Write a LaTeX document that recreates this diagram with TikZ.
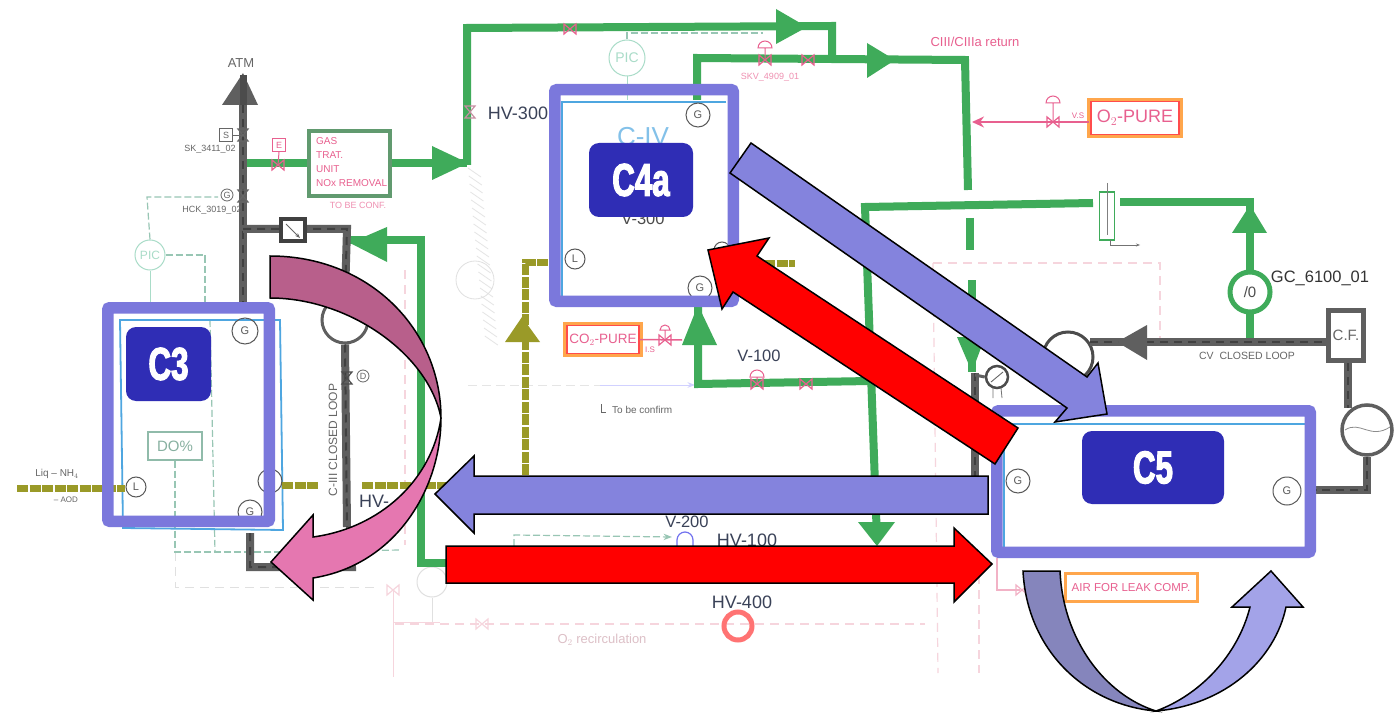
\documentclass[tikz,border=0pt]{standalone}
\usepackage{fontspec}
\setmainfont{Liberation Sans}
\newfontfamily\labfont[FakeStretch=0.68,BoldFeatures={FakeStretch=0.68,FakeBold=2.5}]{Liberation Sans}
\usetikzlibrary{arrows.meta,calc}
\newcommand\fsz[1]{\fontsize{#1}{#1}\selectfont}
\definecolor{frameC}{HTML}{7B78DC}
\definecolor{labC}{HTML}{2F2DB5}
\definecolor{blueA}{HTML}{8483DD}
\definecolor{greenP}{HTML}{3FAB5A}
\definecolor{greyP}{HTML}{5F5F5F}
\definecolor{oliveP}{HTML}{9A9A28}
\definecolor{pinkP}{HTML}{E8608F}
\definecolor{faintP}{HTML}{F6D5DD}
\definecolor{tealF}{HTML}{A9DCC8}
\definecolor{vessel}{HTML}{4EA6E0}
\definecolor{hvtext}{HTML}{3A4258}
\definecolor{magDark}{HTML}{B85F8B}
\definecolor{magLight}{HTML}{E577B0}
\definecolor{purDark}{HTML}{8585BC}
\definecolor{purLight}{HTML}{A3A3E8}
\tikzset{
  x=1pt,y=-1pt,
  framebox/.style={draw=frameC,line width=11.5pt,rounded corners=2pt,inner sep=0pt,outer sep=0pt,anchor=north west},
  labbox/.style={fill=labC,rounded corners=10pt,text=white,inner sep=0pt,outer sep=0pt,align=center,font={\labfont\bfseries\fsz{46}}},
  gpipe/.style={draw=greenP,line width=8pt,line join=miter},
  kpipe/.style={draw=greyP,line width=8pt,line join=miter,postaction={draw=black!75,line width=2pt,dash pattern=on 8pt off 6pt}},
  opipe/.style={draw=oliveP,line width=7pt,dash pattern=on 11pt off 1.5pt},
  gtri/.style={fill=greenP,draw=none},
  ktri/.style={fill=greyP,draw=none},
  otri/.style={fill=oliveP,draw=none},
  teal/.style={draw=tealF,line width=1pt},
  tealdash/.style={draw=tealF!90!black,line width=1.2pt,dash pattern=on 7pt off 3pt},
  faintdash/.style={draw=faintP,line width=1.2pt,dash pattern=on 9pt off 6pt},
  vesselline/.style={draw=vessel,line width=1.8pt},
  gauge/.style={circle,draw=black!65,line width=1pt,fill=none,inner sep=0pt,text=black!65,font=\fsz{11}},
  hv/.style={text=hvtext,font=\fsz{18},inner sep=0pt},
  hvs/.style={text=hvtext,font=\fsz{16.5},inner sep=0pt},
  hand/.style={text=pinkP,inner sep=0pt},
  inkg/.style={text=black!60,inner sep=0pt},
  blockk/.style={draw=black,line width=1.5pt,line join=miter},
  bowtie/.pic={\draw[pic actions,line width=1.2pt] (-6,-5) -- (6,5) -- (6,-5) -- (-6,5) -- cycle;},
}
\begin{document}
\begin{tikzpicture}
\useasboundingbox (0,0) rectangle (1395,714);
\fill[white] (0,0) rectangle (1395,714);

% ---------- faint background lines
\draw[faintdash] (933,263) -- (1160,263) -- (1160,342);
\draw[faintdash] (933,263) -- (938,673);
\draw[faintdash] (979,560) -- (979,673);
\draw[faintdash] (395,624) -- (925,624);
\draw[faintdash] (405,270) -- (405,545);
\draw[draw=faintP,line width=1pt] (393,590) -- (393,677);
\draw[draw=faintP,line width=1pt] (393,622) -- (440,622);
\draw[draw=black!12,line width=1pt,dash pattern=on 9pt off 6pt] (175,552) -- (175,587) -- (375,587);
\node[circle,draw=black!12,line width=1pt,minimum size=30pt,inner sep=0pt] (fcirc) at (432,582) {};
\draw[draw=black!12,line width=1pt] (fcirc.south) -- (432,622);
\pic[draw=faintP] at (393,590) {bowtie};
\pic[draw=faintP] at (482,624) {bowtie};
\node[text=faintP!90!black,inner sep=0pt,font=\fsz{13}] (o2rec) at (602,640) {O$_2$ recirculation};

% hatch scribble
\foreach \y in {168,176,...,340}
  \draw[black!10,line width=.8pt] ({468+0.1*(\y-168)},\y) -- ++(13,9);
\draw[black!12,line width=.8pt] (475,280) circle[radius=19pt];
\draw[draw=black!10,line width=.8pt,dash pattern=on 9pt off 5pt] (468,385) -- (690,385);
\draw[draw=blue!18,line width=1pt,-{Stealth}] (600,385) -- (695,385);

% ---------- teal instrument lines
\node[circle,draw=tealF,line width=1pt,minimum size=30pt,inner sep=0pt,text=tealF,font=\fsz{12}] (pic1) at (150,255) {PIC};
\draw[tealdash] (pic1.north) -- (147,197) -- (218,197);
\draw[tealdash] (pic1.east) -- (205,255) -- (205,302);
\draw[teal] (pic1.south) -- (150,302);
\node[circle,draw=tealF,line width=1pt,minimum size=36pt,inner sep=0pt,text=tealF,font=\fsz{14}] (pic2) at (627,58) {PIC};
\draw[tealdash] (pic2.north) -- (627,33) -- (763,33);
\draw[teal] (pic2.south) -- (627,100);
\node[draw=tealF!85!black,line width=1.2pt,minimum width=54pt,minimum height=28pt,inner sep=0pt,text=tealF!80!black,font=\fsz{15}] (do) at (175,446) {DO\%};
\draw[tealdash] (do.south) -- (175,552) -- (280,552);
\draw[tealdash] (210,320) -- (215,552);
\draw[tealdash] (282,552) -- (400,550);
\draw[tealdash,-{Stealth}] (514,546) -- (514,535) -- (672,537);

% ---------- vessels (thin blue)
\draw[vesselline] (120,320) -- (123,528) -- (283,530) -- (280,320) -- cycle;
\draw[vesselline] (726,102) -- (562,102) -- (562,300);
\draw[vesselline] (1004,550) -- (1004,424) -- (1305,424);

% ---------- green pipes
\node[draw=greenP!70!black!75,line width=4pt,minimum width=81pt,minimum height=65pt,inner sep=0pt,fill=white] (gas) at (349.5,163.5) {};
\coordinate (jn) at (467,163.5);
\draw[gpipe] (245,163.5) -- (gas.west);
\draw[gpipe] (gas.east) -- (jn);
\draw[gpipe] (467,165) -- (467,28) -- (832,26) -- (832,62);
\draw[gpipe] (697,100) -- (697,58) -- (965,60) -- (968,190);
\draw[gpipe] (970,218) -- (970,250);
\draw[gpipe] (972,280) -- (972,372);
\draw[gpipe] (1093,203) -- (865,207) -- (877,540);
\draw[gpipe] (1120,202) -- (1250,202) -- (1250,342);
\draw[gpipe] (870,381) -- (698,384) -- (698,305);
\draw[gpipe] (350,240) -- (421,240) -- (421,563) -- (450,563);
\fill[gtri] (807,27) -- (776,9) -- (776,44) -- cycle;
\fill[gtri] (895,60) -- (867,43) -- (867,78) -- cycle;
\fill[gtri] (468,163) -- (432,146) -- (432,180) -- cycle;
\fill[gtri] (350,243) -- (387,227) -- (387,262) -- cycle;
\fill[gtri] (698,305) -- (682,345) -- (717,345) -- cycle;
\fill[gtri] (1250,205) -- (1232,233) -- (1267,233) -- cycle;
\fill[gtri] (877,546) -- (858,522) -- (895,522) -- cycle;
\fill[gtri] (972,372) -- (957,337) -- (985,337) -- cycle;

% flow meter
\node[draw=greenP,line width=1.5pt,minimum width=15pt,minimum height=48pt,inner sep=0pt] (fm) at (1107,216) {};
\draw[black!50,line width=.8pt] (1107,183) -- (1107,235);
\draw[black!55,line width=.8pt,-{Stealth[length=4pt]}] (1110,240) -- (1110,245) -- (1140,245);

% ---------- grey pipes
\node[circle,draw=greyP,line width=3pt,minimum size=46pt,inner sep=0pt,fill=white] (bigL) at (345,320) {};
\node[circle,draw=black!70,line width=3pt,minimum size=50pt,inner sep=0pt,fill=white] (bigT) at (1068,357) {};
\node[draw=greyP,line width=5pt,minimum width=35pt,minimum height=50pt,inner sep=0pt,fill=white,text=black!60,font=\fsz{15}] (cf) at (1346,335) {C.F.};
\node[circle,draw=greyP,line width=3.5pt,minimum size=50pt,inner sep=0pt,fill=white] (bigR) at (1367,430) {};
\draw[black!45,line width=.8pt] (1345,430) .. controls (1360,420) and (1370,440) .. (1390,427);
\coordinate (cvA) at (1090,342);
\coordinate (cvB) at (1326,342);
\draw[kpipe] (243,105) -- (243,302);
\draw[kpipe] (243,229) -- (347,229) -- (bigL.north);
\draw[kpipe] (bigL.south) -- (347,527);
\draw[kpipe] (250,533) -- (250,567) -- (352,567) -- (350,527);
\draw[kpipe] (cvA) -- (cvB);
\draw[kpipe] (975,373) -- (975,476);
\draw[kpipe] (1348,363) -- (1348,408);
\draw[kpipe] (bigR.south) -- (1367,490) -- (1316,490);
\fill[ktri] (243,73) -- (222,105) -- (258,105) -- cycle;
\fill[black!70] (240,75) rectangle (247,105);
\fill[ktri] (1117,342) -- (1147,325) -- (1147,360) -- cycle;
\node[draw=black!75,line width=4pt,minimum width=24pt,minimum height=22pt,inner sep=0pt,fill=white] (nrv) at (293,230.5) {};
\draw[black!60,line width=1pt,-{Stealth[length=5pt]}] (286,224) -- (300,238);
\node[circle,draw=black!70,line width=2.5pt,minimum size=22pt,inner sep=0pt,fill=white,text=black!60,font=\fsz{9}] (gsm) at (997,377) {};
\draw[greyP,line width=3pt] (975,375) -- (gsm.west);
\draw[black!55,line width=.8pt] (993,388) -- (993,398) (1001,388) -- (1002,398);
\draw[black!60,line width=.9pt] (991,382) -- (1003,372);

% ---------- green gauge
\node[circle,draw=greenP,line width=5pt,minimum size=40pt,inner sep=0pt,fill=white,text=black!70,font=\fsz{15}] (gc) at (1250,292) {/0};

% ---------- olive pipes
\draw[opipe] (17,488) -- (125,488);
\draw[opipe] (282,485) -- (318,485);
\draw[opipe] (362,485) -- (447,485);
\draw[opipe] (525,475) -- (525,262) -- (552,262);
\draw[opipe] (739,263) -- (795,263);
\fill[otri] (522,317) -- (505,342) -- (540,342) -- cycle;

% ---------- reagent boxes
\node[draw=orange!70,line width=4pt,minimum width=92pt,minimum height=36pt,inner sep=0pt,fill=white] (o2o) at (1135,118) {};
\node[draw=red!70,line width=1.4pt,minimum width=88pt,minimum height=33pt,inner sep=0pt,text=pinkP,font=\fsz{18}] (o2) at (1135,118) {O$_2$-PURE};
\coordinate (o2in) at (1089,122);
\draw[pinkP,line width=1.5pt,-{Stealth[length=12pt,width=11pt]}] (o2in) -- (972,122);
\pic[draw=pinkP] at (1053,122) {bowtie};
\draw[pinkP,line width=1pt] (1053,122) -- (1053,103) (1046,103) arc[start angle=180,end angle=0,radius=7pt] -- cycle;
\node[hand,font=\fsz{8}] (vs) at (1078,116) {V.S};

\node[draw=orange!70,line width=4pt,minimum width=76pt,minimum height=31pt,inner sep=0pt,fill=white] (co2o) at (603,339.5) {};
\node[draw=red!70,line width=1.4pt,minimum width=72pt,minimum height=28pt,inner sep=0pt,text=pinkP,font=\fsz{13.5}] (co2) at (603,339.5) {CO$_2$-PURE};
\draw[pinkP,line width=1.5pt] (co2.east) -- (682,340);
\pic[draw=pinkP] at (665,340) {bowtie};
\draw[pinkP,line width=1pt] (665,340) -- (665,330) (660,330) arc[start angle=180,end angle=0,radius=5pt] -- cycle;
\node[hand,font=\fsz{8}] (co2s) at (650,350) {I.S};

\node[draw=orange!70,line width=3pt,minimum width=132pt,minimum height=28pt,inner sep=0pt,fill=white,text=pinkP,font=\fsz{11.5}] (air) at (1131,587.5) {AIR FOR LEAK COMP.};
\draw[faintP!70!pinkP,line width=1.5pt] (997,558) -- (997,590) -- (1020,590);
\pic[draw=faintP!70!pinkP] at (1022,590) {bowtie};

% ---------- small valves
\pic[draw=pinkP] at (570,29) {bowtie};
\pic[draw=pinkP] at (765,60) {bowtie};
\pic[draw=pinkP] at (808,60) {bowtie};
\draw[pinkP,line width=1pt] (765,60) -- (765,48) (758,48) arc[start angle=180,end angle=0,radius=7pt] -- cycle;
\pic[draw=pinkP!70!black!60,rotate=90] at (470,112) {bowtie};
\pic[draw=pinkP] at (278,165) {bowtie};
\node[draw=pinkP,line width=1pt,minimum size=13pt,inner sep=0pt,text=pinkP,font=\fsz{9}] (ssq) at (279,145) {E};
\draw[pinkP,line width=1pt] (ssq.south) -- (278,165);
\pic[draw=black!60,rotate=90] at (243,135) {bowtie};
\node[draw=black!60,line width=.8pt,minimum size=13pt,inner sep=0pt,inkg,font=\fsz{9}] (sq1) at (226,135) {S};
\draw[black!60,line width=.8pt] (sq1.east) -- (243,135);
\pic[draw=black!60,rotate=90] at (243,196) {bowtie};
\node[circle,draw=black!60,line width=.8pt,minimum size=12pt,inner sep=0pt,inkg,font=\fsz{9}] (sq2) at (227,195) {G};
\pic[draw=black!70,rotate=90] at (347,378) {bowtie};
\node[circle,draw=black!60,line width=.8pt,minimum size=12pt,inner sep=0pt,inkg,font=\fsz{9}] (dv) at (363,376) {D};
\pic[draw=pinkP] at (757,384) {bowtie};
\pic[draw=pinkP] at (806,384) {bowtie};
\draw[pinkP,line width=1pt] (757,384) -- (757,377) (750,377) arc[start angle=180,end angle=0,radius=7pt] -- cycle;
\draw[purLight!70!blue,line width=1.2pt] (677,546) -- (677,540) arc[start angle=180,end angle=0,radius=8pt] -- (693,546);
\node[circle,draw=red!55,line width=5pt,minimum size=28pt,inner sep=0pt] (hv400c) at (738,626) {};

% ---------- gas box text and handwriting
\node[hand,font={\fontsize{10}{14}\selectfont},align=left,anchor=north west] (gast) at (316,137) {GAS\\TRAT.\\UNIT\\NOx REMOVAL};
\node[hand,font=\fsz{9},text=pinkP!70] (gast2) at (358,205) {TO BE CONF.};
\node[inkg,font=\fsz{13}] (atm) at (241,63) {ATM};
\node[inkg,font=\fsz{9}] (sk1) at (210,149) {SK\_3411\_02};
\node[inkg,font=\fsz{9}] (hck) at (212,210) {HCK\_3019\_02};
\node[hand,font=\fsz{13}] (ret) at (975,42) {CIII/CIIIa return};
\node[hand,font=\fsz{9},text=pinkP!70] (skv) at (770,77) {SKV\_4909\_01};
\node[inkg,font=\fsz{12},rotate=90] (cl3) at (333,440) {C-III CLOSED LOOP};
\node[inkg,font=\fsz{10.5}] (cvl) at (1247,356) {CV \ CLOSED LOOP};
\draw[black!60,line width=.8pt] (601,404) -- (601,412) -- (606,412);
\node[inkg,font=\fsz{10},anchor=west] (tbc) at (612,410) {To be confirm};
\node[inkg,font=\fsz{10}] (lq) at (57,474) {Liq -- NH$_4$};
\node[inkg,font=\fsz{8}] (aod) at (66,500) {-- AOD};
\node[text=vessel!70,inner sep=0pt,font=\fsz{26}] (civ) at (643,137) {C-IV};

% ---------- instrument circles
\node[gauge,minimum size=26pt] (g1) at (245,331) {G};
\node[gauge,minimum size=20pt] (g2) at (136,487) {L};
\node[gauge,minimum size=24pt] (g3) at (270,481) {};
\node[gauge,minimum size=24pt] (g4) at (250,512) {G};
\node[gauge,minimum size=24pt] (g5) at (698,115) {G};
\node[gauge,minimum size=20pt] (g6) at (575,259) {L};
\node[gauge,minimum size=24pt] (g7) at (700,288) {G};
\node[gauge,minimum size=16pt] (g8) at (722,250) {};
\node[gauge,minimum size=24pt] (g9) at (1018,481) {G};
\node[gauge,minimum size=28pt] (g10) at (1287,491) {G};

% ---------- printed labels
\node[hv] (hv300) at (518,113) {HV-300};
\node[hv,anchor=west] (hvc) at (359,501) {HV-};
\node[hvs,text=black!70] (v300) at (643,219) {V-300};
\node[hvs] (v100) at (759,356) {V-100};
\node[hvs] (v200) at (687,522) {V-200};
\node[hv] (hv100) at (747,540) {HV-100};
\node[hv] (hv400) at (742,602) {HV-400};
\node[hvs,text=black!80] (gctxt) at (1320,278) {GC\_6100\_01};

% ---------- unit frames
\node[framebox,minimum width=161.5pt,minimum height=213.5pt] (c3box) at (107.75,307.75) {};
\node[framebox,minimum width=178.5pt,minimum height=211.5pt] (c4box) at (554.75,89.75) {};
\node[framebox,minimum width=313.5pt,minimum height=141.5pt] (c5box) at (996.75,410.75) {};

\node[labbox,minimum width=85pt,minimum height=74pt] (c3) at (168.5,364) {C3};
\node[labbox,minimum width=104pt,minimum height=74pt] (c4a) at (641,180) {C4a};
\node[labbox,minimum width=142pt,minimum height=73pt] (c5) at (1153,467.5) {C5};

% ---------- block arrows
\coordinate (tipA) at (1107,414);
\coordinate (tipB) at (708,250);
\coordinate (tipC) at (435,494);
\coordinate (tipD) at (992,564);
\coordinate (tipE) at (271,562);
\coordinate (tipF) at (1271,571);
\draw[blockk,fill=blueA] (751,143) -- (1087,377) -- (1098,363) -- (tipA) -- (1055,422) -- (1067,408) -- (730,173) -- cycle;
\draw[blockk,fill=red] (1018,428) -- (757,256) -- (769,238) -- (tipB) -- (722,309) -- (733,292) -- (995,464) -- cycle;
\draw[blockk,fill=blueA] (988,476) -- (474,476) -- (474,456) -- (tipC) -- (474,533) -- (474,514) -- (988,514) -- cycle;
\draw[blockk,fill=red] (446,546) -- (954,546) -- (954,528) -- (tipD) -- (954,602) -- (954,583) -- (446,583) -- cycle;

% curved arrow C3
\coordinate (foldM) at (441,418);
\draw[blockk,fill=magDark] (270,256) .. controls (370,256) and (441,330) .. (foldM)
   .. controls (429,355) and (350,298) .. (270,298) -- cycle;
\draw[blockk,fill=magLight] (foldM) .. controls (441,490) and (395,565) .. (313,578)
   -- (313,600) -- (tipE) -- (313,515) -- (313,537)
   .. controls (380,528) and (432,480) .. (foldM) -- cycle;

% curved arrow C5
\coordinate (foldP) at (1156,711);
\draw[blockk,fill=purDark] (1023,571) .. controls (1027,650) and (1085,705) .. (foldP)
   .. controls (1105,695) and (1063,640) .. (1060,571) -- cycle;
\draw[blockk,fill=purLight] (foldP) .. controls (1225,705) and (1275,660) .. (1286,607)
   -- (1303,607) -- (tipF) -- (1232,607) -- (1250,607)
   .. controls (1238,655) and (1200,695) .. (foldP) -- cycle;
\end{tikzpicture}
\end{document}
